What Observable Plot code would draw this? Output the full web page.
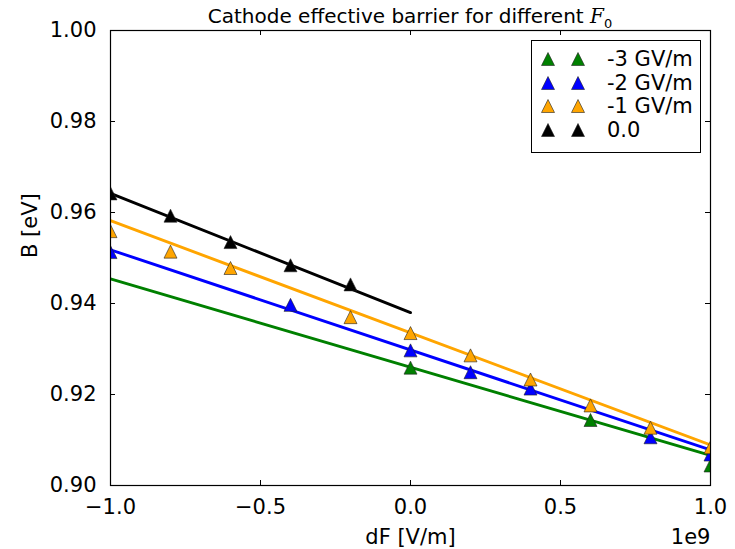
<!DOCTYPE html>
<html>
<head>
<meta charset="utf-8">
<script src="https://cdn.jsdelivr.net/npm/d3@7"></script>
<script src="https://cdn.jsdelivr.net/npm/@observablehq/plot@0.6"></script>
<style>
  body { margin: 0; background: #fff; font-family: "DejaVu Sans", sans-serif; }
  #wrap { position: relative; width: 735px; height: 549px; }
  #title { position: absolute; left: 110px; width: 600px; top: 3px; line-height: 26px; text-align: center; font-size: 20px; color: #000; white-space: nowrap; }
  #title i { font-family: "DejaVu Serif", serif; }
  #legend { position: absolute; left: 531px; top: 40px; width: 168px; height: 111px; border: 1px solid #000; background: #fff; }
  .row { position: absolute; left: 0; height: 24px; display: flex; align-items: center; font-size: 21px; line-height: 24px; white-space: nowrap; }
  .row svg { margin-left: 9px; display: block; }
  .row span { margin-left: 22px; }
</style>
</head>
<body>
<div id="wrap"></div>
<script>
// ---- data ----
const seriesNames = ["-3 GV/m", "-2 GV/m", "-1 GV/m", "0.0"];
const seriesColors = ["#008000", "#0000ff", "#ffa500", "#000000"];

// measured points (dF in V/m, B in eV)
const greenX = [0, 0.6e9, 1.0e9];
const greenB = [0.9259, 0.9144, 0.9044];
const blueX = [-1.0e9, -0.4e9, 0, 0.2e9, 0.4e9, 0.8e9, 1.0e9];
const blueB = [0.9513, 0.9397, 0.9297, 0.9249, 0.9213, 0.9106, 0.9068];
const orangeX = [-1.0e9, -0.8e9, -0.6e9, -0.2e9, 0, 0.2e9, 0.4e9, 0.6e9, 0.8e9, 1.0e9];
const orangeB = [0.9559, 0.9514, 0.9478, 0.9370, 0.9335, 0.9286, 0.9233, 0.9176, 0.9127, 0.9084];
const blackX = [-1.0e9, -0.8e9, -0.6e9, -0.4e9, -0.2e9];
const blackB = [0.9642, 0.9593, 0.9535, 0.9484, 0.9442];

// fitted lines (endpoints)
const greenFitX = [-1.0e9, 1.0e9];
const greenFitB = [0.9454, 0.9066];
const blueFitX = [-1.0e9, 1.0e9];
const blueFitB = [0.9518, 0.9078];
const orangeFitX = [-1.0e9, 1.0e9];
const orangeFitB = [0.9582, 0.9089];
const blackFitX = [-1.0e9, 0];
const blackFitB = [0.9642, 0.9380];

const xTicks = [-1.0e9, -0.5e9, 0, 0.5e9, 1.0e9];
const yTicks = [0.90, 0.92, 0.94, 0.96, 0.98, 1.00];

// ---- layout ----
const W = 735, H = 549;
const mL = 110, mR = 25, mT = 30, mB = 64;
const fw = W - mL - mR, fh = H - mT - mB;
const tick = 5;

const zip = (xs, ys) => xs.map((x, i) => ({x, y: ys[i]}));
const pts = [zip(greenX, greenB), zip(blueX, blueB), zip(orangeX, orangeB), zip(blackX, blackB)];
const fits = [zip(greenFitX, greenFitB), zip(blueFitX, blueFitB), zip(orangeFitX, orangeFitB), zip(blackFitX, blackFitB)];

// matplotlib-like "^" marker: bbox centred on the point
const tri = {
  draw(ctx, size) {
    const a = Math.sqrt(size / Math.PI);
    ctx.moveTo(0, -a);
    ctx.lineTo(a, a);
    ctx.lineTo(-a, a);
    ctx.closePath();
  }
};

const fmtX = d => d3.format(".1f")(d / 1e9).replace("-", "\u2212");
const fmtY = d3.format(".2f");

const marks = [];
fits.forEach((f, i) => marks.push(Plot.line(f, {x: "x", y: "y", stroke: seriesColors[i], strokeWidth: 2.9, clip: true})));
pts.forEach((p, i) => marks.push(Plot.dot(p, {x: "x", y: "y", symbol: tri, r: 6.5, fill: seriesColors[i], stroke: "#222", strokeWidth: 0.6, clip: true})));
// inward ticks on all four sides
marks.push(Plot.ruleX(xTicks, {x: d => d, insetTop: fh - tick, stroke: "#000"}));
marks.push(Plot.ruleX(xTicks, {x: d => d, insetBottom: fh - tick, stroke: "#000"}));
marks.push(Plot.ruleY(yTicks, {y: d => d, insetRight: fw - tick, stroke: "#000"}));
marks.push(Plot.ruleY(yTicks, {y: d => d, insetLeft: fw - tick, stroke: "#000"}));
marks.push(Plot.axisX(xTicks, {tickSize: 0, tickPadding: 14, tickFormat: fmtX, fontSize: 21, label: null}));
marks.push(Plot.axisY(yTicks, {tickSize: 0, tickPadding: 14, tickFormat: fmtY, fontSize: 21, label: null}));
marks.push(Plot.text(["dF [V/m]"], {frameAnchor: "bottom", dy: 52, fontSize: 21, lineAnchor: "middle"}));
marks.push(Plot.text(["1e9"], {frameAnchor: "bottom-right", dy: 52, textAnchor: "end", fontSize: 21, lineAnchor: "middle"}));
marks.push(Plot.text(["B [eV]"], {frameAnchor: "left", dx: -80, rotate: -90, fontSize: 21, lineAnchor: "middle"}));
marks.push(Plot.frame({stroke: "#000", strokeWidth: 1.2}));

const chart = Plot.plot({
  width: W, height: H,
  marginLeft: mL, marginRight: mR, marginTop: mT, marginBottom: mB,
  x: {domain: [-1e9, 1e9], axis: null},
  y: {domain: [0.90, 1.00], axis: null},
  style: {fontFamily: "DejaVu Sans, sans-serif", background: "#fff", color: "#000", overflow: "visible"},
  marks
});

const wrap = document.getElementById("wrap");
wrap.appendChild(chart);

const title = document.createElement("div");
title.id = "title";
title.innerHTML = 'Cathode effective barrier for different <i>F</i><sub style="font-size:13px;line-height:0">0</sub>';
wrap.appendChild(title);

const legend = document.createElement("div");
legend.id = "legend";
seriesNames.forEach((name, i) => {
  const row = document.createElement("div");
  row.className = "row";
  row.style.top = (6 + i * 23.7) + "px";
  const svg = `<svg width="44" height="14" viewBox="0 0 44 14">
    <polygon points="7,0.5 13.5,13.5 0.5,13.5" fill="${seriesColors[i]}" stroke="#222" stroke-width="0.6"/>
    <polygon points="37,0.5 43.5,13.5 30.5,13.5" fill="${seriesColors[i]}" stroke="#222" stroke-width="0.6"/>
  </svg>`;
  row.innerHTML = svg + `<span>${name}</span>`;
  legend.appendChild(row);
});
wrap.appendChild(legend);
</script>
</body>
</html>
